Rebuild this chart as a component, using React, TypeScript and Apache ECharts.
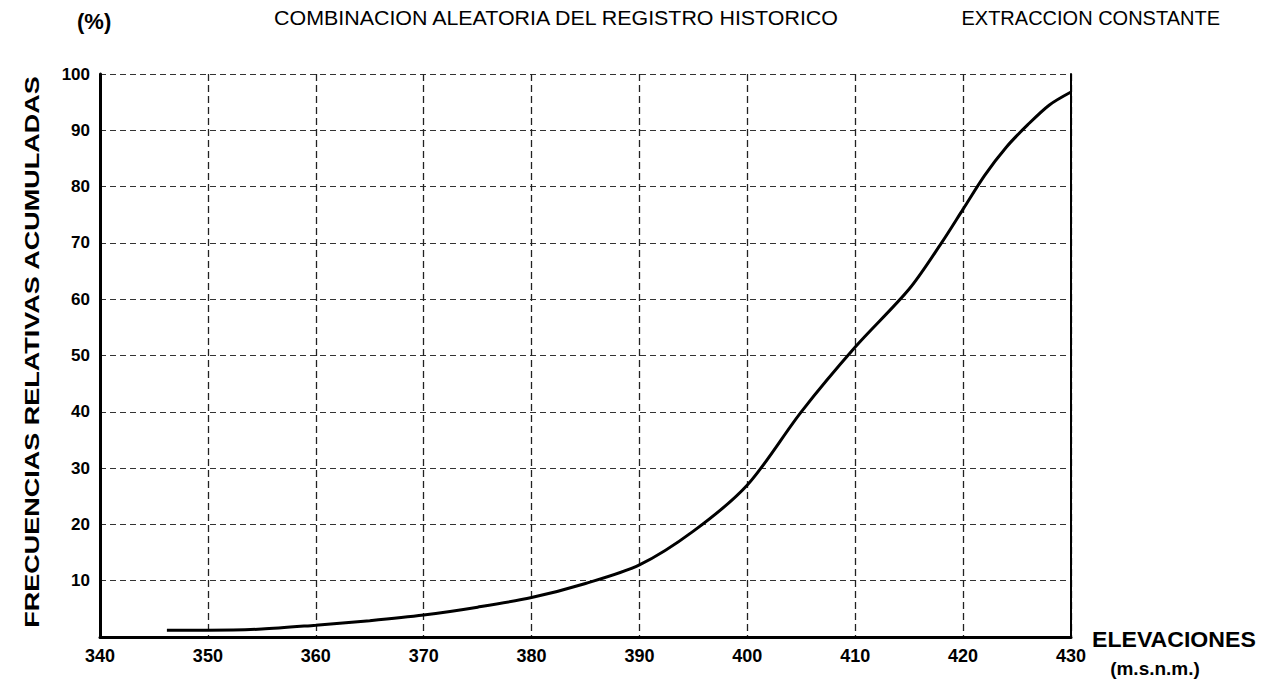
import React, { useEffect, useRef } from "react";
import * as echarts from "echarts";

const elevations = [346.2, 350, 355, 360, 365, 370, 375, 380, 385, 390, 395, 400, 405, 410, 415, 418, 420, 422, 424, 426, 428, 430];
const cumFreq = [1.2, 1.2, 1.4, 2.1, 2.9, 3.9, 5.3, 7.0, 9.5, 12.8, 18.8, 27.0, 40.0, 51.5, 61.8, 70.0, 76.0, 82.0, 87.0, 91.0, 94.5, 96.8];

const xTicks = { min: 340, max: 430, step: 10 };
const yTicks = { min: 0, max: 100, step: 10 };

const titleMain = "COMBINACION ALEATORIA DEL REGISTRO HISTORICO";
const titleRight = "EXTRACCION CONSTANTE";
const unitLabel = "(%)";
const yName = "FRECUENCIAS RELATIVAS ACUMULADAS";
const xName = "ELEVACIONES";
const xUnit = "(m.s.n.m.)";

const FONT = "'Liberation Sans', Arial, sans-serif";

export default function App() {
  const ref = useRef<HTMLDivElement>(null);
  useEffect(() => {
    if (!ref.current) return;
    const chart = echarts.init(ref.current, null, { renderer: "svg" });
    const data = elevations.map((x, i) => [x, cumFreq[i]]);
    chart.setOption({
      animation: false,
      backgroundColor: "#ffffff",
      grid: { left: 92, right: 194, top: 66, bottom: 51, containLabel: false },
      xAxis: {
        type: "value",
        min: xTicks.min,
        max: xTicks.max,
        interval: xTicks.step,
        axisLine: { show: true, onZero: false, lineStyle: { color: "#000", width: 3 } },
        axisTick: { show: false },
        axisLabel: { color: "#000", fontFamily: FONT, fontWeight: "bold", fontSize: 18, margin: 10 },
        splitLine: { show: true, lineStyle: { color: "#222", width: 1.3, type: [7, 4] } },
      },
      yAxis: [
        {
          type: "value",
          min: yTicks.min,
          max: yTicks.max,
          interval: yTicks.step,
          axisLine: { show: true, lineStyle: { color: "#000", width: 3 } },
          axisTick: { show: false },
          axisLabel: {
            color: "#000",
            fontFamily: FONT,
            fontWeight: "bold",
            fontSize: 17,
            margin: 10,
            formatter: (v: number) => (v === 0 ? "" : String(v)),
          },
          splitLine: { show: true, lineStyle: { color: "#333", width: 1.2, type: [6, 4] } },
        },
        {
          type: "value",
          position: "right",
          min: yTicks.min,
          max: yTicks.max,
          interval: yTicks.step,
          axisLine: { show: true, lineStyle: { color: "#000", width: 2 } },
          axisTick: { show: false },
          axisLabel: { show: false },
          splitLine: { show: false },
        },
      ],
      series: [
        {
          type: "line",
          data,
          smooth: 0.3,
          showSymbol: false,
          lineStyle: { color: "#000", width: 3 },
          yAxisIndex: 0,
        },
      ],
      graphic: [
        {
          type: "text",
          left: 69,
          top: 2,
          style: { text: unitLabel, font: `bold 22px ${FONT}`, fill: "#000" },
        },
        {
          type: "text",
          x: 548,
          y: 0,
          scaleX: 1.07,
          style: { text: titleMain, font: `20px ${FONT}`, fill: "#000", align: "center", verticalAlign: "top" },
        },
        {
          type: "text",
          x: 1212,
          y: 0,
          style: { text: titleRight, font: `20px ${FONT}`, fill: "#000", align: "right", verticalAlign: "top" },
        },
        {
          type: "text",
          x: 24,
          y: 344,
          rotation: Math.PI / 2,
          scaleX: 1.35,
          style: { text: yName, font: `bold 20px ${FONT}`, fill: "#000", align: "center", verticalAlign: "middle" },
        },
        {
          type: "text",
          x: 1084,
          y: 632,
          scaleX: 1.05,
          style: { text: xName, font: `bold 22px ${FONT}`, fill: "#000", align: "left", verticalAlign: "middle" },
        },
        {
          type: "text",
          x: 1147,
          y: 660,
          style: { text: xUnit, font: `bold 19px ${FONT}`, fill: "#000", align: "center", verticalAlign: "middle" },
        },
      ],
    });
    return () => chart.dispose();
  }, []);
  return <div ref={ref} style={{ width: 1257, height: 680 }} />;
}
